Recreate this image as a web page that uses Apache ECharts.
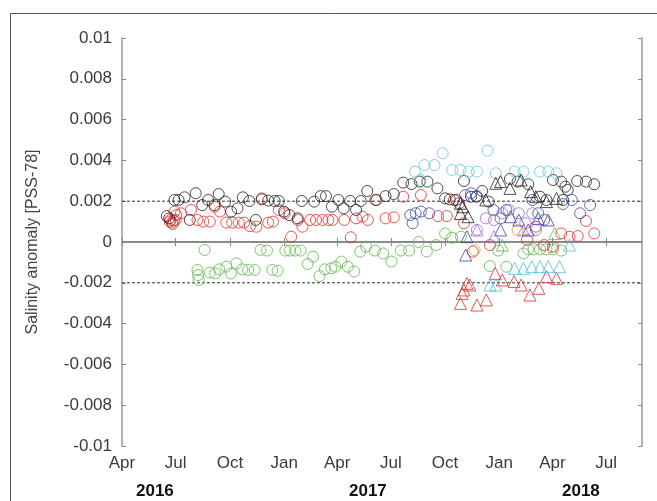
<!DOCTYPE html>
<html><head><meta charset="utf-8">
<script src="https://cdn.jsdelivr.net/npm/echarts@6/dist/echarts.min.js"></script>
<style>html,body{margin:0;padding:0;background:#fff}#c{width:657px;height:501px}</style>
</head><body><div id="c"></div>
<script>
// ---- axis ticks / labels ----
const xTicks = ['2016-04-01','2016-07-01','2016-10-01','2017-01-01','2017-04-01','2017-07-01','2017-10-01','2018-01-01','2018-04-01','2018-07-01'];
const xTickLabels = ['Apr','Jul','Oct','Jan','Apr','Jul','Oct','Jan','Apr','Jul'];
const xRange = ['2016-04-01','2018-08-31'];
const yearLabels = ['2016','2017','2018'];
const yRange = [-0.01, 0.01];
const yStep = 0.002;
const thresholds = [0.002, -0.002];
const yAxisTitle = 'Salinity anomaly [PSS-78]';

// ---- series data: [date, salinity anomaly] ----
const blackCircles = [
['2016-06-16',0.00127],['2016-06-20',0.00116],['2016-06-29',0.00206],['2016-07-06',0.00206],['2016-07-16',0.00219],
['2016-07-25',0.00108],['2016-08-04',0.00239],['2016-08-15',0.00181],['2016-08-25',0.00206],['2016-09-05',0.00181],
['2016-09-12',0.00235],['2016-09-23',0.00198],['2016-10-03',0.00149],['2016-10-14',0.00165],['2016-10-23',0.00219],
['2016-11-03',0.00201],['2016-11-14',0.00108],['2016-11-24',0.00209],['2016-12-05',0.00203],['2016-12-16',0.00201],
['2016-12-23',0.00201],['2017-01-01',0.00149],['2017-01-10',0.00132],['2017-01-24',0.00116],['2017-01-31',0.00201],
['2017-02-21',0.00198],['2017-03-04',0.00225],['2017-03-13',0.00225],['2017-03-23',0.00173],['2017-04-03',0.00206],
['2017-04-12',0.00165],['2017-04-23',0.00201],['2017-05-03',0.00157],['2017-05-11',0.00201],['2017-05-22',0.00250],
['2017-06-05',0.00206],['2017-06-22',0.00225],['2017-07-06',0.00235],['2017-07-22',0.00291],['2017-08-05',0.00284],
['2017-08-19',0.00296],['2017-09-01',0.00296],['2017-09-18',0.00263],['2017-10-01',0.00214],['2017-10-09',0.00209],
['2017-10-20',0.00206],['2017-11-02',0.00299],['2017-11-14',0.00222],['2017-11-23',0.00222],['2017-12-03',0.00250],
['2017-12-14',0.00198],['2018-01-19',0.00309],['2018-02-01',0.00296],['2018-02-19',0.00283],['2018-03-11',0.00222],
['2018-03-22',0.00206],['2018-04-02',0.00304],['2018-04-16',0.00296],['2018-04-23',0.00271],['2018-04-27',0.00255],
['2018-04-19',0.00206],['2018-05-13',0.00299],['2018-05-28',0.00296],['2018-06-11',0.00283]
];
const blackTriangles = [
['2017-10-27',0.00190],['2017-10-31',0.00173],['2017-10-27',0.00140],['2017-11-09',0.00124],['2017-12-09',0.00206],
['2017-12-26',0.00288],['2018-01-03',0.00296],['2018-01-19',0.00263],['2018-02-07',0.00304],['2018-02-23',0.00247],
['2018-03-04',0.00222],['2018-03-22',0.00198],['2018-04-08',0.00214]
];
const redCircles = [
['2016-06-21',0.00100],['2016-06-25',0.00095],['2016-06-28',0.00105],['2016-07-01',0.00108],['2016-06-26',0.00088],
['2016-06-22',0.00108],['2016-07-02',0.00132],['2016-06-29',0.00149],['2016-07-10',0.00141],['2016-07-27',0.00157],
['2016-08-07',0.00108],['2016-08-17',0.00100],['2016-08-28',0.00100],['2016-09-05',0.00173],['2016-09-14',0.00149],
['2016-09-25',0.00095],['2016-10-05',0.00095],['2016-10-16',0.00095],['2016-10-25',0.00095],['2016-11-04',0.00078],
['2016-11-15',0.00075],['2016-11-24',0.00214],['2016-12-05',0.00095],['2016-12-13',0.00100],['2016-12-23',0.00157],
['2017-01-02',0.00141],['2017-01-13',0.00026],['2017-01-24',0.00108],['2017-02-01',0.00075],['2017-02-14',0.00108],
['2017-02-24',0.00108],['2017-03-07',0.00108],['2017-03-17',0.00108],['2017-03-24',0.00108],['2017-04-13',0.00108],
['2017-04-24',0.00023],['2017-05-03',0.00116],['2017-05-14',0.00124],['2017-05-23',0.00108],['2017-06-07',0.00206],
['2017-06-22',0.00116],['2017-07-06',0.00121],['2017-07-22',0.00222],['2017-08-21',0.00230],['2017-09-19',0.00127],
['2017-10-04',0.00127],['2017-10-16',0.00206],['2017-10-25',0.00190],['2017-11-02',0.00092],['2017-11-17',-0.00047],
['2017-12-16',-0.00015],['2018-02-17',0.00010],['2018-03-04',0.00075],['2018-03-18',-0.00015],['2018-04-02',-0.00023],
['2018-04-16',0.00042],['2018-04-30',0.00026],['2018-05-14',0.00029],['2018-05-28',0.00103],['2018-06-11',0.00042]
];
const redTriangles = [
['2017-10-27',-0.00301],['2017-10-30',-0.00252],['2017-11-02',-0.00235],['2017-11-07',-0.00203],['2017-11-12',-0.00211],
['2017-11-24',-0.00309],['2017-12-10',-0.00284],['2017-12-25',-0.00154],['2018-01-06',-0.00186],['2018-01-26',-0.00194],
['2018-02-07',-0.00211],['2018-02-22',-0.00260],['2018-03-09',-0.00227],['2018-03-22',-0.00170],['2018-04-08',-0.00178]
];
const greenCircles = [
['2016-08-07',-0.00137],['2016-08-08',-0.00162],['2016-08-09',-0.00186],['2016-08-19',-0.00039],['2016-08-28',-0.00150],
['2016-09-06',-0.00154],['2016-09-13',-0.00134],['2016-09-25',-0.00121],['2016-10-03',-0.00154],['2016-10-12',-0.00105],
['2016-10-22',-0.00134],['2016-11-01',-0.00137],['2016-11-12',-0.00137],['2016-11-22',-0.00039],['2016-12-03',-0.00042],
['2016-12-12',-0.00137],['2016-12-21',-0.00141],['2017-01-03',-0.00042],['2017-01-11',-0.00042],['2017-01-20',-0.00042],
['2017-01-29',-0.00042],['2017-02-10',-0.00108],['2017-02-19',-0.00072],['2017-03-02',-0.00167],['2017-03-11',-0.00134],
['2017-03-22',-0.00129],['2017-03-29',-0.00121],['2017-04-08',-0.00096],['2017-04-19',-0.00121],['2017-04-30',-0.00145],
['2017-05-10',-0.00047],['2017-05-20',-0.00023],['2017-06-04',-0.00042],['2017-06-18',-0.00056],['2017-07-02',-0.00096],
['2017-07-18',-0.00042],['2017-08-01',-0.00042],['2017-08-17',0.00000],['2017-08-31',-0.00047],['2017-09-16',-0.00015],
['2017-10-01',0.00042],['2017-10-13',0.00021],['2017-10-28',0.00026],['2017-12-16',-0.00118],['2017-12-30',-0.00042],
['2018-01-13',-0.00121],['2018-02-11',-0.00056],['2018-02-19',-0.00036],['2018-02-28',-0.00036],['2018-03-11',-0.00036],
['2018-03-22',-0.00036],['2018-04-02',-0.00036],['2018-04-16',-0.00042]
];
const greenTriangles = [
['2018-01-06',-0.00015],['2018-04-05',0.00042]
];
const orangeCircles = [
['2018-02-01',0.00059],['2017-11-20',-0.00040]
];
const cyanCircles = [
['2017-08-11',0.00345],['2017-08-20',0.00304],['2017-08-27',0.00377],['2017-09-13',0.00377],['2017-09-27',0.00435],
['2017-10-13',0.00353],['2017-10-27',0.00353],['2017-11-10',0.00345],['2017-11-24',0.00345],['2017-12-12',0.00448],
['2017-12-26',0.00337],['2018-01-27',0.00345],['2018-02-11',0.00345],['2018-03-11',0.00345],['2018-03-25',0.00345],
['2018-04-08',0.00337]
];
const cyanTriangles = [
['2017-12-16',-0.00211],['2017-12-26',-0.00211],['2018-01-27',-0.00129],['2018-02-11',-0.00129],['2018-02-25',-0.00121],
['2018-03-11',-0.00121],['2018-03-25',-0.00121],['2018-04-13',-0.00121],['2018-04-30',-0.00015]
];
const blueCircles = [
['2017-08-03',0.00132],['2017-08-07',0.00092],['2017-08-12',0.00141],['2017-08-21',0.00149],['2017-09-04',0.00141],
['2017-11-04',0.00230],['2017-11-14',0.00239],['2017-11-24',0.00225],['2017-12-22',0.00157],['2018-01-03',0.00116],
['2018-01-13',0.00157],['2018-02-26',0.00206],['2018-03-08',0.00141],['2018-03-18',0.00108],['2018-04-19',0.00186],
['2018-05-04',0.00206],['2018-05-18',0.00141],['2018-06-04',0.00181]
];
const blueTriangles = [
['2017-11-07',0.00026],['2017-11-05',-0.00064],['2018-01-03',0.00059],['2018-01-20',0.00124],['2018-02-03',0.00108],
['2018-02-19',0.00059],['2018-03-08',0.00116],['2018-03-25',0.00108]
];
const purpleCircles = [
['2017-11-24',0.00059],['2017-12-09',0.00116],['2017-12-23',0.00108],['2018-01-06',0.00141],['2018-01-17',0.00157],
['2018-02-03',0.00141],['2018-02-14',0.00092],['2018-02-26',0.00141],['2018-03-04',0.00059]
];
const purpleTriangles = [
['2017-11-24',0.00059],['2017-12-23',0.00026],['2018-02-11',0.00059]
];

// ---- helpers ----
function toTime(s){ const p = s.split('-').map(Number); return new Date(p[0], p[1]-1, p[2]).getTime(); }
function conv(arr){ return arr.map(d => [toTime(d[0]), d[1]]); }
const tickTimes = xTicks.map(toTime);

const chart = echarts.init(document.getElementById('c'), null, {renderer:'canvas'});
const FONT = 'Liberation Sans, Arial, Helvetica, sans-serif';
const groups = [
  {d: greenCircles, c:'#5cb84a', s:'circle'},
  {d: redCircles, c:'#e0302c', s:'circle'},
  {d: blackCircles, c:'#222222', s:'circle'},
  {d: cyanCircles, c:'#63c3df', s:'circle'},
  {d: blueCircles, c:'#3a47a8', s:'circle'},
  {d: purpleCircles, c:'#9a68c8', s:'circle'},
  {d: orangeCircles, c:'#e39a3c', s:'circle'},
  {d: redTriangles, c:'#e0302c', s:'triangle'},
  {d: cyanTriangles, c:'#4fbfe0', s:'triangle'},
  {d: blueTriangles, c:'#3a47a8', s:'triangle'},
  {d: purpleTriangles, c:'#9a68c8', s:'triangle'},
  {d: greenTriangles, c:'#5cb84a', s:'triangle'},
  {d: blackTriangles, c:'#222222', s:'triangle'}
];
const series = groups.map((g, i) => ({
  type:'scatter', xAxisIndex:0, yAxisIndex:0,
  data: conv(g.d), symbol: g.s, symbolSize: g.s === 'circle' ? 11 : 12,
  itemStyle: {color:'rgba(0,0,0,0)', borderColor: g.c, borderWidth: 1},
  emphasis: {disabled:true}, silent:true, z: 3
}));
// reference lines drawn as line series across the full x range
const xMin = toTime(xRange[0]), xMax = toTime(xRange[1]);
thresholds.forEach(t => series.push({
  type:'line', data:[[xMin, t],[xMax, t]], symbol:'none', silent:true, z:2,
  lineStyle:{color:'#333', type:[3,2], width:1}
}));
series.push({
  type:'line', data:[[xMin, 0],[xMax, 0]], symbol:'none', silent:true, z:2,
  lineStyle:{color:'#8a8a8a', type:'solid', width:2}
});

const axisLineStyle = {color:'#9a9a9a', width:1.5};
const option = {
  animation:false,
  backgroundColor:'#fff',
  grid:{left:122, right:15, top:38, bottom:55, containLabel:false},
  xAxis:[{
    type:'value', min:xMin, max:xMax, position:'bottom', scale:true,
    axisLine:{show:true, lineStyle:axisLineStyle},
    axisTick:{show:true, inside:true, length:4, lineStyle:{color:'#888'}, customValues: tickTimes},
    axisLabel:{show:true, customValues: tickTimes, margin:9, fontFamily:FONT, fontSize:17, color:'#3a3a3a',
      formatter: function(v){ const i = tickTimes.indexOf(v); return i >= 0 ? xTickLabels[i] : ''; }},
    splitLine:{show:false}
  },{
    type:'value', min:xMin, max:xMax, position:'top', scale:true,
    axisLine:{show:true, lineStyle:axisLineStyle},
    axisTick:{show:true, inside:true, length:4, lineStyle:{color:'#888'}, customValues: tickTimes},
    axisLabel:{show:false}, splitLine:{show:false}
  }],
  yAxis:[{
    type:'value', min:yRange[0], max:yRange[1], interval:yStep, position:'left',
    name: yAxisTitle, nameLocation:'middle', nameGap:81, nameRotate:90,
    nameTextStyle:{fontFamily:FONT, fontSize:16, color:'#444'},
    axisLine:{show:true, lineStyle:axisLineStyle},
    axisTick:{show:true, inside:true, length:4, lineStyle:{color:'#888'}},
    axisLabel:{margin:10, fontFamily:FONT, fontSize:17, color:'#3a3a3a',
      formatter: v => String(Number(v.toFixed(3)))},
    splitLine:{show:false}
  },{
    type:'value', min:yRange[0], max:yRange[1], interval:yStep, position:'right',
    axisLine:{show:true, lineStyle:axisLineStyle},
    axisTick:{show:true, inside:true, length:4, lineStyle:{color:'#888'}},
    axisLabel:{show:false}, splitLine:{show:false}
  }],
  graphic:[
    {type:'rect', left:8, top:11, shape:{width:700, height:600}, style:{fill:'none', stroke:'#555', lineWidth:1}, silent:true, z:-1},
    {type:'text', left:136, top:483, style:{text:yearLabels[0], font:'bold 17px ' + FONT, fill:'#111'}},
    {type:'text', left:349, top:483, style:{text:yearLabels[1], font:'bold 17px ' + FONT, fill:'#111'}},
    {type:'text', left:562, top:483, style:{text:yearLabels[2], font:'bold 17px ' + FONT, fill:'#111'}}
  ],
  series: series
};
chart.setOption(option);
</script>
</body></html>
